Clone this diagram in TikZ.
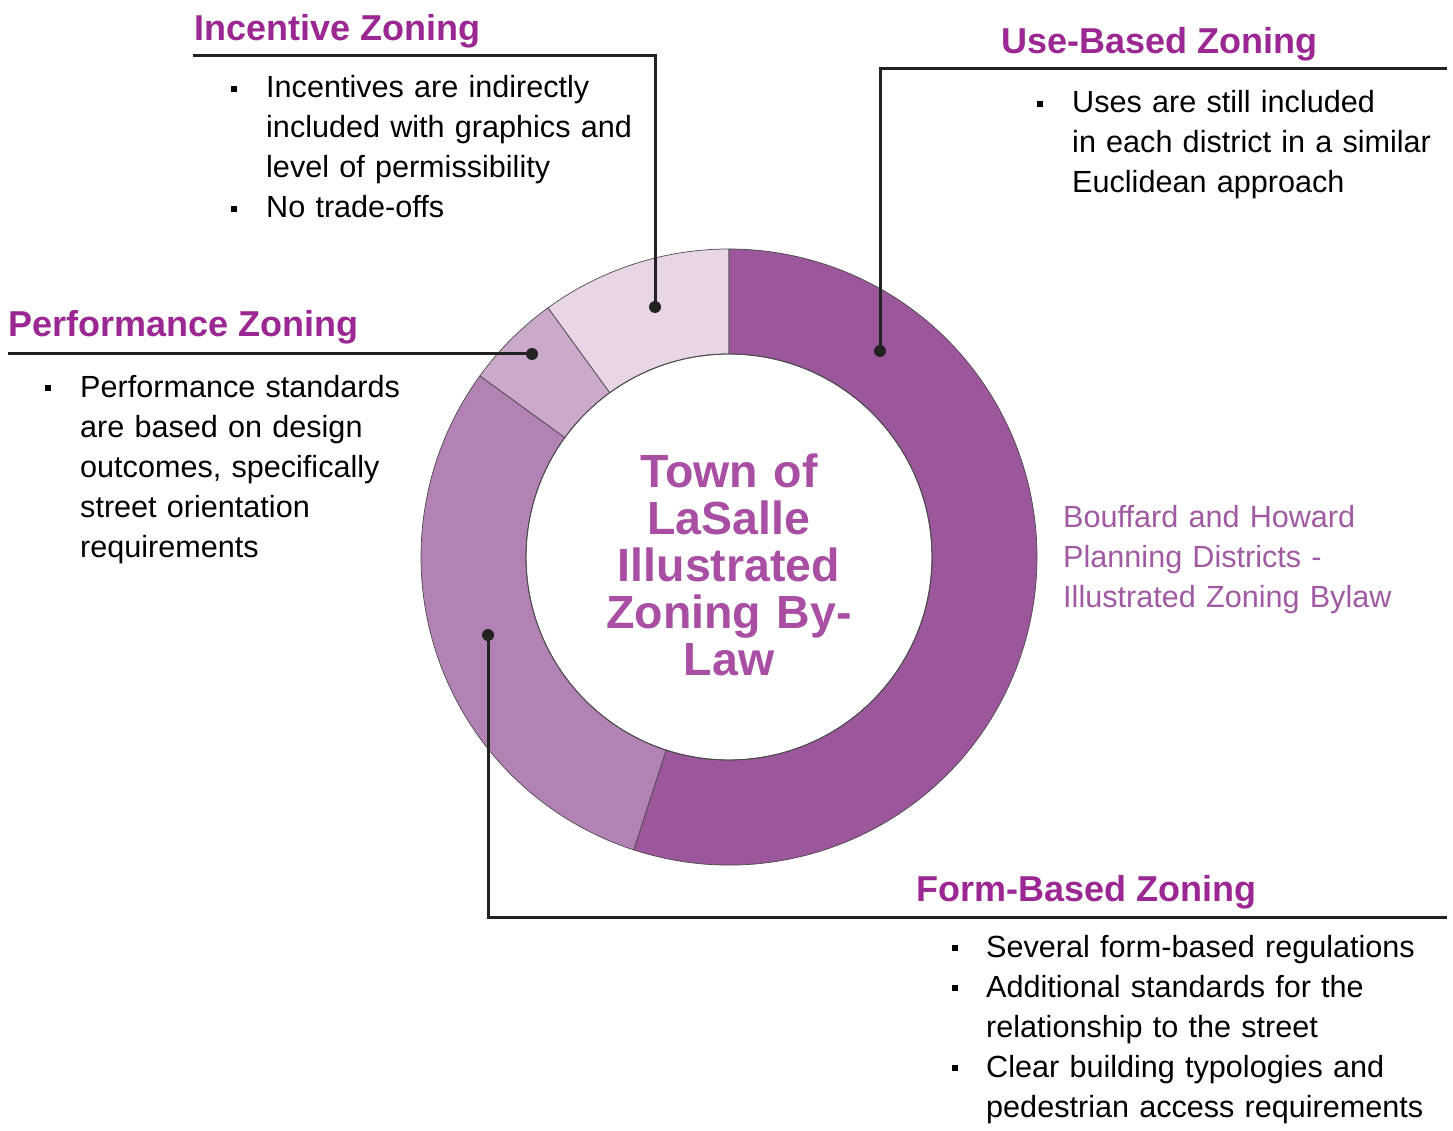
\documentclass[tikz,border=0pt]{standalone}
\usepackage{fontspec}
\setmainfont{Liberation Sans}
\definecolor{useb}{HTML}{9C579C}
\definecolor{form}{HTML}{B382B4}
\definecolor{perf}{HTML}{CBA9CB}
\definecolor{incent}{HTML}{E8D6E7}
\definecolor{seam}{HTML}{4A4A4A}
\definecolor{titlepurple}{HTML}{9B2892}
\definecolor{centpurple}{HTML}{A84FA4}
\definecolor{labelpurple}{HTML}{A05AA1}
\definecolor{leadgray}{HTML}{222222}
\begin{document}
\begin{tikzpicture}
  [x=1pt,y=-1pt,every node/.style={inner sep=0pt},
  title/.style={anchor=base west,font=\fontsize{36}{40}\selectfont\bfseries,text=titlepurple},
  body/.style={anchor=base west,align=left,text width=440pt,font=\fontsize{30.6}{40}\selectfont},
  sqbullet/.style={rectangle,fill=black,minimum size=6pt},
  dot/.style={circle,fill=leadgray,minimum size=12pt},
  leader/.style={draw=leadgray,line width=3pt}]
  \useasboundingbox (0,0) rectangle (1453,1131);

  % ring
  \coordinate (ctr) at (729,557);
  \begin{scope}[shift={(ctr)}]
    \foreach \from/\to/\col in {90/126/incent,126/144/perf,144/252/form,252/450/useb}
      \filldraw[fill=\col,draw=seam,line width=0.7pt] (-\from:308) arc[start angle=-\from,end angle=-\to,radius=308]
        -- (-\to:203) arc[start angle=-\to,end angle=-\from,radius=203] -- cycle;
    \draw[seam,line width=0.9pt] (0,0) circle[radius=203];
  \end{scope}
  \node[font=\fontsize{46.5}{47}\selectfont\bfseries,text=centpurple,align=center,text width=320pt,anchor=base]
    (town) at (729,487) {Town of\\LaSalle\\Illustrated\\Zoning By-\\Law};

  % titles
  \node[title] (incT) at (194,41) {Incentive Zoning};
  \node[title] (useT) at (1001,54) {Use-Based Zoning};
  \node[title] (perfT) at (8,337) {Performance Zoning};
  \node[title] (formT) at (916,901) {Form-Based Zoning};

  % bullet texts
  \node[body] (incA) at (266,98) {Incentives are indirectly\\included with graphics and\\level of permissibility};
  \node[body] (incB) at (266,218) {No trade-offs};
  \node[body] (useA) at (1072,113) {Uses are still included\\in each district in a similar\\Euclidean approach};
  \node[body] (perfA) at (80,397) {Performance standards\\are based on design\\outcomes, specifically\\street orientation\\requirements};
  \node[body] (formA) at (986,957) {Several form-based regulations};
  \node[body] (formB) at (986,997) {Additional standards for the\\relationship to the street};
  \node[body] (formC) at (986,1077) {Clear building typologies and\\pedestrian access requirements};
  \node[body,text=labelpurple] (bouff) at (1063,527) {Bouffard and Howard\\Planning Districts -\\Illustrated Zoning Bylaw};

  \foreach \n/\x/\y in {incA/234/89,incB/234/209,useA/1040/104,perfA/48/388,
    formA/955/948,formB/955/988,formC/955/1068}
    \node[sqbullet] (\n-b) at (\x,\y) {};

  % leaders
  \node[dot] (incDot) at (655,307) {};
  \node[dot] (useDot) at (880,351) {};
  \node[dot] (perfDot) at (532,354) {};
  \node[dot] (formDot) at (488,635) {};
  \coordinate (incEnd) at (193,56);
  \coordinate (useEnd) at (1447,69);
  \coordinate (perfEnd) at (8,354);
  \coordinate (formEnd) at (1447,917);
  \draw[leader] (incEnd) -| (incDot.center);
  \draw[leader] (useEnd) -| (useDot.center);
  \draw[leader] (perfEnd) -- (perfDot.center);
  \draw[leader] (formEnd) -| (formDot.center);
\end{tikzpicture}
\end{document}
